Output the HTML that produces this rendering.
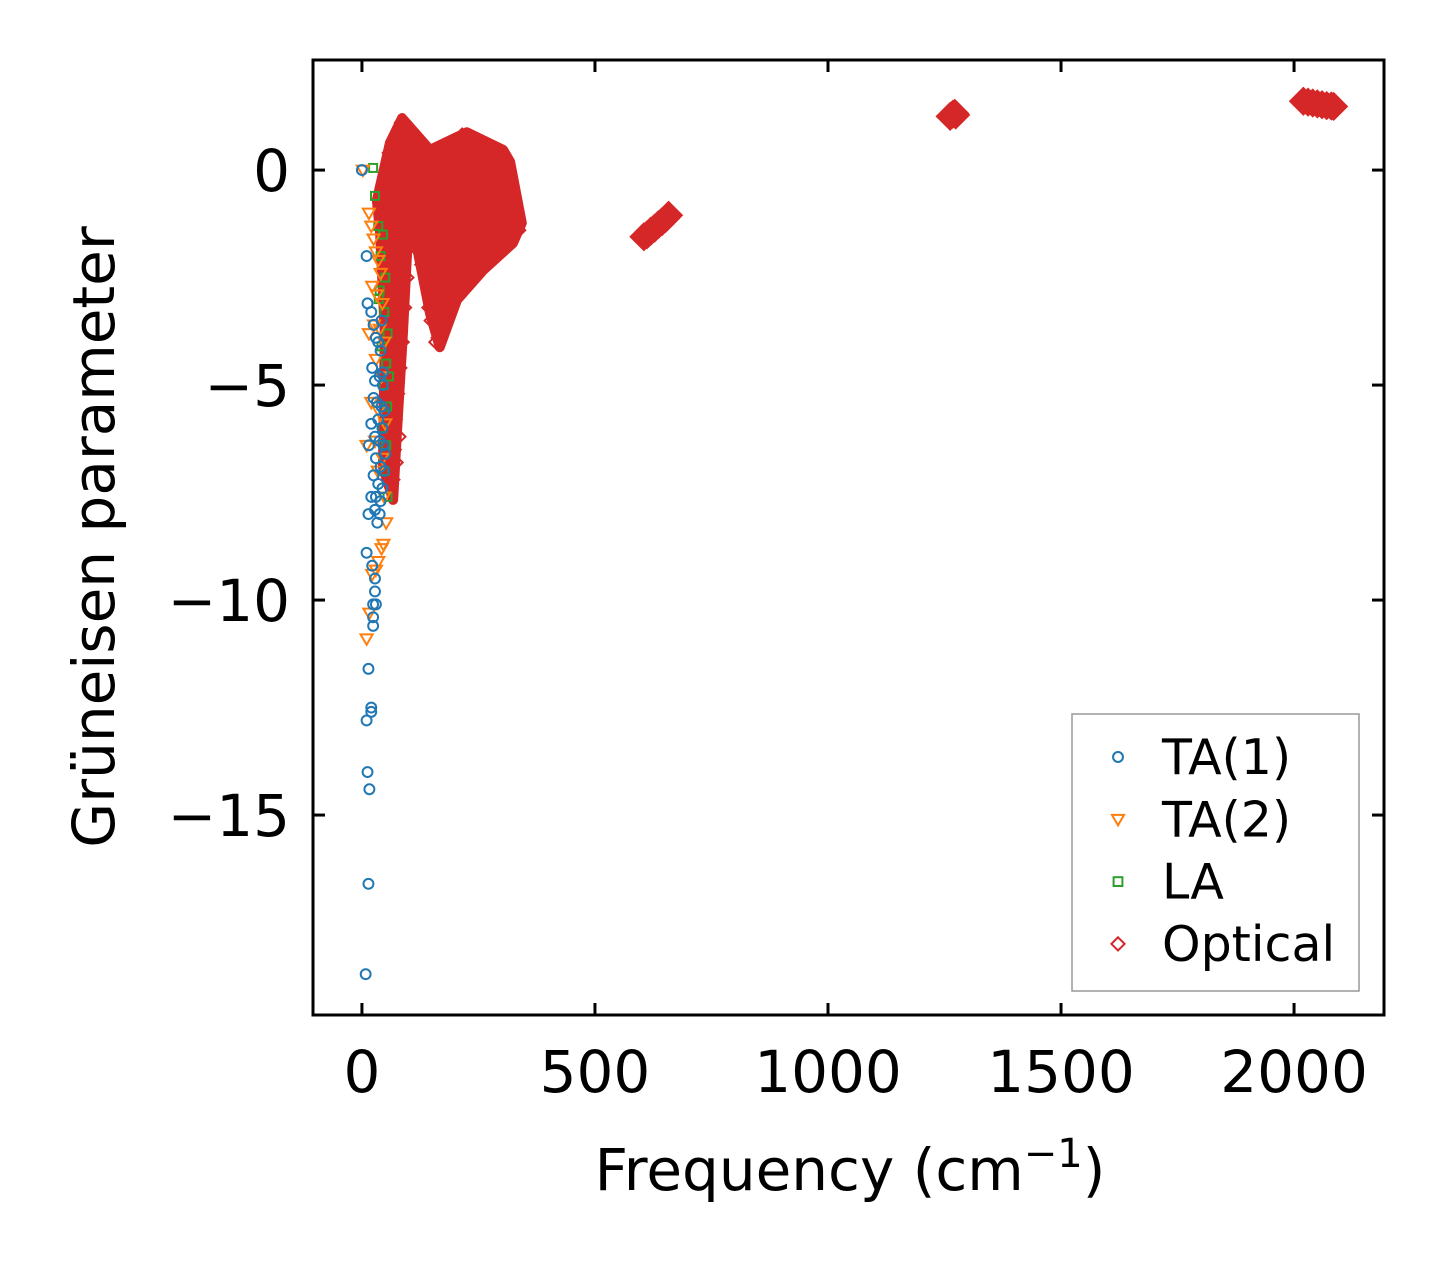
<!DOCTYPE html>
<html><head><meta charset="utf-8"><style>
body{margin:0;background:#fff;}
svg{display:block;font-family:"DejaVu Sans","Liberation Sans",sans-serif;}
</style></head><body>
<svg id="chart" width="1443" height="1264" viewBox="0 0 1443 1264" xmlns="http://www.w3.org/2000/svg">
<rect width="1443" height="1264" fill="#fff"/>
<g id="marks"></g>
<g id="axes"></g>
<text x="114" y="537" transform="rotate(-90 114 537)" font-size="58" text-anchor="middle">Grüneisen parameter</text>
<text x="850" y="1190" font-size="58" text-anchor="middle">Frequency (cm<tspan dy="-23" font-size="40">−1</tspan><tspan dy="23">)</tspan></text>
<g id="legend">
<rect x="1072" y="714" width="287" height="277" fill="#fff" stroke="#999" stroke-width="1.5"/>
</g>
</svg>
<script>
const xTicks=[0,500,1000,1500,2000];
const yTicks=[0,-5,-10,-15];
const yTickLabels=["0","−5","−10","−15"];
const ta1F=[0,10,12,20,25,30,35,40,22,28,38,45,25,32,42,48,20,35,44,28,38,46,15,30,40,48,25,35,44,20,30,28,38,14,33,10,22,28,28,24,30,24,24,14,20,20,10,12,16,14,8,45,50,42,40];
const ta1G=[0,-2.0,-3.1,-3.3,-3.6,-3.9,-4.0,-4.2,-4.6,-4.9,-4.8,-4.7,-5.3,-5.4,-5.5,-5.6,-5.9,-5.8,-6.0,-6.2,-6.3,-6.4,-6.4,-6.7,-6.9,-7.0,-7.1,-7.3,-7.4,-7.6,-7.6,-7.9,-8.0,-8.0,-8.2,-8.9,-9.2,-9.5,-9.8,-10.1,-10.1,-10.4,-10.6,-11.6,-12.5,-12.6,-12.8,-14.0,-14.4,-16.6,-18.7,-5.0,-6.6,-3.5,-7.7];
const ta2F=[2,15,20,25,30,35,40,22,32,44,15,26,38,48,30,42,20,36,50,28,10,44,34,48,52,46,42,30,35,22,16,10];
const ta2G=[0,-1.0,-1.3,-1.6,-1.9,-2.1,-2.4,-2.7,-2.9,-3.1,-3.8,-3.6,-3.7,-4.0,-4.4,-4.8,-5.4,-5.6,-5.9,-6.3,-6.4,-6.7,-7.0,-7.6,-8.2,-8.7,-8.8,-9.3,-9.1,-9.4,-10.3,-10.9];
const laF=[24,28,35,45,40,50,38,48,55,42,52,46,54,44,52,48,55,36,58];
const laG=[0.05,-0.6,-1.3,-1.5,-2.0,-2.5,-2.8,-3.3,-3.8,-4.1,-4.5,-5.0,-5.5,-6.0,-6.4,-7.0,-7.6,-3.0,-4.8];
// envelope of the dense optical-mode region
const optBlobF=[86,146,225,303,318,343,324,260,204,167,146,118,99,88,75,67,45,49,39,32,60];
const optBlobG=[1.21,0.47,0.88,0.47,0.19,-1.23,-1.70,-2.33,-3.02,-4.12,-3.33,-1.79,-1.47,-3.79,-6.12,-7.67,-6.91,-3.79,-1.47,-0.70,0.63];
const optF=[86,80,100,120,140,170,200,215,225,250,270,290,300,305,310,318,325,330,335,320,300,280,260,240,230,215,200,190,180,170,165,160,150,145,130,115,105,95,90,85,80,75,70,68,65,72,78,60,55,605,612,620,628,636,644,652,658,1262,1268,1274,1272,2020,2030,2040,2050,2060,2070,2080,2085];
const optG=[1.1,0.8,0.5,0.3,0.4,0.5,0.6,0.8,0.6,0.4,0.2,0.1,0.3,0.1,-0.4,-0.8,-1.1,-1.3,-1.4,-1.6,-1.8,-2.0,-2.2,-2.4,-2.5,-2.6,-2.8,-3.0,-3.3,-3.6,-3.9,-4.0,-3.5,-3.2,-2.2,-1.8,-1.5,-2.5,-3.2,-4.0,-4.6,-5.2,-5.8,-6.5,-7.2,-6.8,-6.2,0.4,-0.2,-1.55,-1.5,-1.42,-1.35,-1.27,-1.2,-1.12,-1.05,1.25,1.3,1.28,1.32,1.6,1.58,1.56,1.54,1.52,1.5,1.49,1.48];
const X0=313,X1=1384,Y0=60,Y1=1015,XMIN=-105,XMAX=2193,YMIN=-19.65,YMAX=2.56;
const sx=v=>X0+(v-XMIN)/(XMAX-XMIN)*(X1-X0);
const sy=v=>Y0+(YMAX-v)/(YMAX-YMIN)*(Y1-Y0);
const NS="http://www.w3.org/2000/svg";
const marks=document.getElementById('marks'),axes=document.getElementById('axes'),legend=document.getElementById('legend');
function mk(tag,attrs,parent){const e=document.createElementNS(NS,tag);for(const k in attrs)e.setAttribute(k,attrs[k]);parent.appendChild(e);return e;}
const C={b:'#1f77b4',o:'#ff7f0e',g:'#2ca02c',r:'#d62728'};
function marker(kind,x,y,s,parent,fill){
  let e;
  if(kind==='o'){e=mk('circle',{cx:x,cy:y,r:s*0.45,fill:'none',stroke:C.b,'stroke-width':2},parent);}
  else if(kind==='v'){e=mk('polygon',{points:`${x-s*0.55},${y-s*0.4} ${x+s*0.55},${y-s*0.4} ${x},${y+s*0.55}`,fill:'none',stroke:C.o,'stroke-width':2},parent);}
  else if(kind==='s'){e=mk('rect',{x:x-s*0.4,y:y-s*0.4,width:s*0.8,height:s*0.8,fill:'none',stroke:C.g,'stroke-width':2},parent);}
  else {e=mk('polygon',{points:`${x},${y-s*0.6} ${x+s*0.6},${y} ${x},${y+s*0.6} ${x-s*0.6},${y}`,fill:fill||'none',stroke:C.r,'stroke-width':2},parent);}
  return e;
}
const bp=optBlobF.map((f,i)=>sx(f)+','+sy(optBlobG[i])).join(' ');
const blob=mk('polygon',{points:bp,fill:C.r,stroke:C.r,'stroke-width':10,'stroke-linejoin':'round'},marks);


optF.forEach((f,i)=>{const e=marker('d',sx(f),sy(optG[i]),f>500?22:12,marks,f>500?C.r:'none');

});
laF.forEach((f,i)=>{const e=marker('s',sx(f),sy(laG[i]),10,marks);

});
ta2F.forEach((f,i)=>{const e=marker('v',sx(f),sy(ta2G[i]),11,marks);

});
ta1F.forEach((f,i)=>{const e=marker('o',sx(f),sy(ta1G[i]),11,marks);

});
const fr=mk('rect',{x:X0,y:Y0,width:X1-X0,height:Y1-Y0,fill:'none',stroke:'#000','stroke-width':3},axes);


xTicks.forEach(t=>{const x=sx(t);
 mk('line',{x1:x,x2:x,y1:Y1,y2:Y1-12,stroke:'#000','stroke-width':3},axes);
 mk('line',{x1:x,x2:x,y1:Y0,y2:Y0+12,stroke:'#000','stroke-width':3},axes);
 const l=mk('text',{x:x,y:1092,'font-size':58,'text-anchor':'middle'},axes);l.textContent=t;
 
 });
yTicks.forEach((t,i)=>{const y=sy(t);
 mk('line',{x1:X0,x2:X0+12,y1:y,y2:y,stroke:'#000','stroke-width':3},axes);
 mk('line',{x1:X1,x2:X1-12,y1:y,y2:y,stroke:'#000','stroke-width':3},axes);
 const l=mk('text',{x:290,y:y+21,'font-size':58,'text-anchor':'end'},axes);l.textContent=yTickLabels[i];
 
 });
const leg=[['o','TA(1)'],['v','TA(2)'],['s','LA'],['d','Optical']];
leg.forEach((it,i)=>{const y=757+i*62.3;
 const m=marker(it[0],1118,y,11,legend);
 
 
 const t=mk('text',{x:1162,y:y+17,'font-size':49},legend);t.textContent=it[1];
 
 });
</script>
</body></html>
